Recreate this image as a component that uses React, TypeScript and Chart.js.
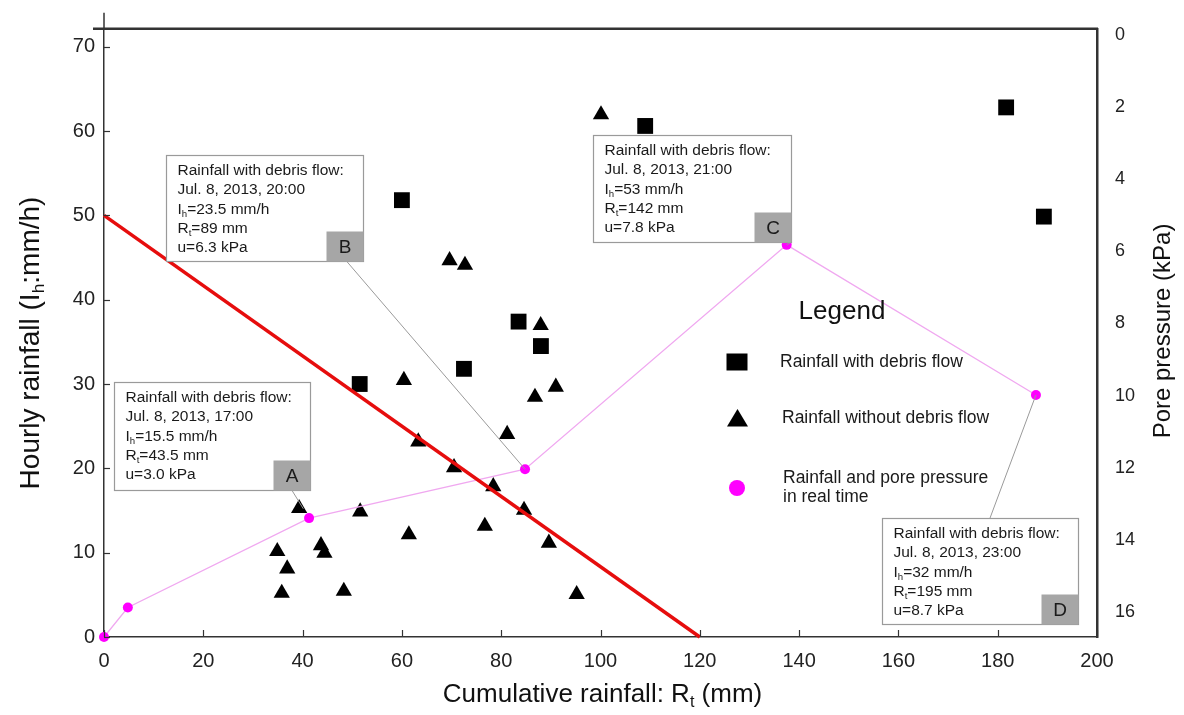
import React, { useEffect, useRef } from "react";
import { Chart, registerables } from "chart.js";

Chart.register(...registerables);

// ---------- data ----------
const squareX = [51.5, 60.0, 109.0, 83.5, 88.0, 72.5, 181.7, 189.3];
const squareY = [30.0, 51.8, 60.6, 37.4, 34.5, 31.8, 62.8, 49.85];

const triangleX = [69.6, 72.7, 87.95, 60.4, 91.0, 86.8, 81.2, 63.3, 70.5, 78.4, 39.3, 51.6, 84.6, 76.7, 61.4, 89.6, 34.9, 43.7, 44.4, 36.9, 35.8, 48.3, 95.2, 100.1];
const triangleY = [44.65, 44.1, 36.95, 30.45, 29.65, 28.45, 24.05, 23.15, 20.1, 17.85, 15.25, 14.85, 15.05, 13.15, 12.15, 11.15, 10.15, 10.85, 9.95, 8.1, 5.2, 5.45, 5.05, 61.95];

const realTimeX = [0, 4.8, 41.3, 84.8, 137.5, 187.7];
const realTimeY = [0, 3.5, 14.1, 19.9, 46.5, 28.7];

const thresholdX = [0, 120];
const thresholdY = [50, 0];

const xTicks = [0, 20, 40, 60, 80, 100, 120, 140, 160, 180, 200];
const leftTicks = [0, 10, 20, 30, 40, 50, 60, 70];
const rightTicks = [0, 2, 4, 6, 8, 10, 12, 14, 16];

const legendLabels = ["Rainfall with debris flow", "Rainfall without debris flow", "Rainfall and pore pressure", "in real time"];

const noteA = ["Rainfall with debris flow:", "Jul. 8, 2013, 17:00", "I_h=15.5 mm/h", "R_t=43.5 mm", "u=3.0 kPa"];
const noteB = ["Rainfall with debris flow:", "Jul. 8, 2013, 20:00", "I_h=23.5 mm/h", "R_t=89 mm", "u=6.3 kPa"];
const noteC = ["Rainfall with debris flow:", "Jul. 8, 2013, 21:00", "I_h=53 mm/h", "R_t=142 mm", "u=7.8 kPa"];
const noteD = ["Rainfall with debris flow:", "Jul. 8, 2013, 23:00", "I_h=32 mm/h", "R_t=195 mm", "u=8.7 kPa"];

// ---------- layout / styles ----------
const FONT = "'Liberation Sans', Arial, Helvetica, sans-serif";
const W = 1184;
const H = 715;

// annotation boxes: anchor (top-left) in data units, size in px
const notes = [
  { letter: "A", lines: noteA, x: 2.0, y: 30.2, w: 196, h: 108, target: 2, sx: 178, sy: 108, shorten: 11 },
  { letter: "B", lines: noteB, x: 12.5, y: 57.2, w: 197, h: 106, target: 3, sx: 180, sy: 106, shorten: 0 },
  { letter: "C", lines: noteC, x: 98.5, y: 59.5, w: 198, h: 107, target: 4, sx: 198, sy: 107, shorten: 0 },
  { letter: "D", lines: noteD, x: 156.7, y: 14.1, w: 196, h: 106, target: 5, sx: 108, sy: 0, shorten: 0 },
];

type Seg = { t: string; sub: boolean };
function parseRich(s: string): Seg[] {
  const out: Seg[] = [];
  let buf = "";
  for (let i = 0; i < s.length; i++) {
    if (s[i] === "_" && i + 1 < s.length) {
      if (buf) out.push({ t: buf, sub: false });
      buf = "";
      out.push({ t: s[i + 1], sub: true });
      i++;
    } else buf += s[i];
  }
  if (buf) out.push({ t: buf, sub: false });
  return out;
}

function richText(
  ctx: CanvasRenderingContext2D,
  s: string,
  x: number,
  y: number,
  size: number,
  align: "left" | "center",
  color = "#111"
) {
  const segs = parseRich(s);
  const subSize = size * 0.62;
  const fontOf = (g: Seg) => `${g.sub ? subSize : size}px ${FONT}`;
  const widthOf = (g: Seg) => {
    ctx.font = fontOf(g);
    return ctx.measureText(g.t).width;
  };
  const total = segs.reduce((a, g) => a + widthOf(g), 0);
  let cx = align === "center" ? x - total / 2 : x;
  ctx.fillStyle = color;
  ctx.textBaseline = "middle";
  ctx.textAlign = "left";
  for (const g of segs) {
    ctx.font = fontOf(g);
    ctx.fillText(g.t, cx, g.sub ? y + size * 0.3 : y);
    cx += widthOf(g);
  }
}

const decorPlugin = {
  id: "decor",
  afterDatasetsDraw(chart: any) {
    const ctx: CanvasRenderingContext2D = chart.ctx;
    const xs = chart.scales.x;
    const ys = chart.scales.y;
    ctx.save();
    // connectors
    notes.forEach((n) => {
      const bx = xs.getPixelForValue(n.x);
      const by = ys.getPixelForValue(n.y);
      const tx = xs.getPixelForValue(realTimeX[n.target]);
      const ty = ys.getPixelForValue(realTimeY[n.target]);
      const sx = bx + n.sx;
      const sy = by + n.sy;
      const len = Math.hypot(tx - sx, ty - sy);
      const k = len > 0 ? (len - n.shorten) / len : 1;
      ctx.beginPath();
      ctx.moveTo(sx, sy);
      ctx.lineTo(sx + (tx - sx) * k, sy + (ty - sy) * k);
      ctx.strokeStyle = "#9a9a9a";
      ctx.lineWidth = 1;
      ctx.stroke();
    });
    // boxes
    notes.forEach((n) => {
      const bx = Math.round(xs.getPixelForValue(n.x)) + 0.5;
      const by = Math.round(ys.getPixelForValue(n.y)) + 0.5;
      ctx.fillStyle = "#ffffff";
      ctx.fillRect(bx, by, n.w, n.h);
      ctx.strokeStyle = "#9a9a9a";
      ctx.lineWidth = 1.2;
      ctx.strokeRect(bx, by, n.w, n.h);
      // letter box
      const lw = 37;
      const lh = 30;
      ctx.fillStyle = "#a6a6a6";
      ctx.fillRect(bx + n.w - lw, by + n.h - lh, lw, lh);
      ctx.font = `19px ${FONT}`;
      ctx.fillStyle = "#1a1a1a";
      ctx.textAlign = "center";
      ctx.textBaseline = "middle";
      ctx.fillText(n.letter, bx + n.w - lw / 2, by + n.h - lh / 2 + 1);
      n.lines.forEach((ln, i) => {
        richText(ctx, ln, bx + 11, by + 15 + i * 19.4, 15.5, "left", "#1a1a1a");
      });
    });
    ctx.restore();
  },
  afterDraw(chart: any) {
    const ctx: CanvasRenderingContext2D = chart.ctx;
    const area = chart.chartArea;
    const xs = chart.scales.x;
    const ys = chart.scales.y;
    ctx.save();
    // top frame line and axis extension
    ctx.strokeStyle = "#333";
    ctx.lineWidth = 2.5;
    ctx.beginPath();
    ctx.moveTo(area.left - 11, area.top);
    ctx.lineTo(area.right + 1, area.top);
    ctx.stroke();
    ctx.lineWidth = 1.5;
    ctx.beginPath();
    ctx.moveTo(area.left, area.top - 16);
    ctx.lineTo(area.left, area.top);
    ctx.stroke();
    // inward ticks
    ctx.lineWidth = 1.2;
    ctx.strokeStyle = "#333";
    leftTicks.forEach((v) => {
      const py = Math.round(ys.getPixelForValue(v)) + 0.5;
      ctx.beginPath();
      ctx.moveTo(area.left, py);
      ctx.lineTo(area.left + 6, py);
      ctx.stroke();
    });
    xTicks.forEach((v) => {
      const px = Math.round(xs.getPixelForValue(v)) + 0.5;
      ctx.beginPath();
      ctx.moveTo(px, area.bottom);
      ctx.lineTo(px, area.bottom - 7);
      ctx.stroke();
    });
    // axis titles
    richText(ctx, "Cumulative rainfall: R_t (mm)", (area.left + area.right) / 2 + 2, 695, 26, "center", "#111");
    ctx.save();
    ctx.translate(31, 343);
    ctx.rotate(-Math.PI / 2);
    richText(ctx, "Hourly rainfall (I_h:mm/h)", 0, 0, 28, "center", "#111");
    ctx.restore();
    ctx.save();
    ctx.translate(1163, 331);
    ctx.rotate(-Math.PI / 2);
    richText(ctx, "Pore pressure (kPa)", 0, 0, 24, "center", "#111");
    ctx.restore();

    // legend
    ctx.fillStyle = "#111";
    ctx.font = `26px ${FONT}`;
    ctx.textAlign = "center";
    ctx.textBaseline = "middle";
    ctx.fillText("Legend", 842, 312);
    // square
    ctx.fillStyle = "#000";
    ctx.fillRect(737 - 10.5, 362 - 8.5, 21, 17);
    // triangle
    ctx.beginPath();
    ctx.moveTo(737.5, 418 - 9);
    ctx.lineTo(737.5 + 10.5, 418 + 8.5);
    ctx.lineTo(737.5 - 10.5, 418 + 8.5);
    ctx.closePath();
    ctx.fill();
    // circle
    ctx.fillStyle = "#ff00ff";
    ctx.beginPath();
    ctx.arc(737, 488, 8, 0, Math.PI * 2);
    ctx.fill();
    richText(ctx, legendLabels[0], 780, 362, 17.5, "left", "#1a1a1a");
    richText(ctx, legendLabels[1], 782, 418, 17.5, "left", "#1a1a1a");
    richText(ctx, legendLabels[2], 783, 478, 17.5, "left", "#1a1a1a");
    richText(ctx, legendLabels[3], 783, 497, 17.5, "left", "#1a1a1a");
    ctx.restore();
  },
};

export default function App() {
  const ref = useRef<HTMLCanvasElement | null>(null);
  useEffect(() => {
    if (!ref.current) return;
    const chart = new Chart(ref.current, {
      type: "scatter",
      data: {
        datasets: [
          {
            type: "line",
            label: "Threshold",
            data: thresholdX.map((x, i) => ({ x, y: thresholdY[i] })),
            borderColor: "#e60d0d",
            borderWidth: 3.5,
            pointRadius: 0,
            fill: false,
            clip: false,
            yAxisID: "y",
          },
          {
            type: "line",
            label: "Rainfall and pore pressure in real time",
            data: realTimeX.map((x, i) => ({ x, y: realTimeY[i] })),
            borderColor: "#f0a8f0",
            borderWidth: 1.3,
            pointRadius: 5,
            pointBackgroundColor: "#ff00ff",
            pointBorderColor: "#ff00ff",
            pointBorderWidth: 0,
            fill: false,
            tension: 0,
            clip: false,
            yAxisID: "y",
          },
          {
            label: "Rainfall with debris flow",
            data: squareX.map((x, i) => ({ x, y: squareY[i] })),
            pointStyle: "rect",
            pointRadius: 11.2,
            backgroundColor: "#000",
            borderColor: "#000",
            borderWidth: 0,
            clip: false,
            yAxisID: "y",
          },
          {
            label: "Rainfall without debris flow",
            data: triangleX.map((x, i) => ({ x, y: triangleY[i] })),
            pointStyle: "triangle",
            pointRadius: 9.4,
            backgroundColor: "#000",
            borderColor: "#000",
            borderWidth: 0,
            clip: false,
            yAxisID: "y",
          },
        ],
      },
      options: {
        animation: false,
        responsive: false,
        maintainAspectRatio: false,
        devicePixelRatio: 1,
        layout: { padding: { top: 24, left: 0, right: 0, bottom: 0 } },
        plugins: {
          legend: { display: false },
          tooltip: { enabled: false },
          title: { display: false },
        },
        scales: {
          x: {
            type: "linear",
            position: "bottom",
            min: 0,
            max: 200,
            afterBuildTicks: (s: any) => {
              s.ticks = xTicks.map((v) => ({ value: v }));
            },
            afterFit: (s: any) => {
              s.height = 78;
            },
            ticks: {
              font: { family: FONT, size: 20 },
              color: "#222",
              padding: 12,
              maxRotation: 0,
              autoSkip: false,
            },
            grid: { display: true, drawOnChartArea: false, drawTicks: false },
            border: { display: true, color: "#333", width: 1.5 },
          },
          y: {
            type: "linear",
            position: "left",
            min: 0,
            max: 72.12,
            afterBuildTicks: (s: any) => {
              s.ticks = leftTicks.map((v) => ({ value: v }));
            },
            afterFit: (s: any) => {
              s.width = 104;
            },
            ticks: {
              font: { family: FONT, size: 20 },
              color: "#222",
              padding: 9,
              autoSkip: false,
            },
            grid: { display: true, drawOnChartArea: false, drawTicks: false },
            border: { display: true, color: "#333", width: 1.5 },
          },
          y2: {
            type: "linear",
            position: "right",
            display: true,
            reverse: true,
            min: -0.165,
            max: 16.69,
            afterBuildTicks: (s: any) => {
              s.ticks = rightTicks.map((v) => ({ value: v }));
            },
            afterFit: (s: any) => {
              s.width = 87;
            },
            ticks: {
              font: { family: FONT, size: 18 },
              color: "#222",
              padding: 18,
              autoSkip: false,
            },
            grid: { display: true, drawOnChartArea: false, drawTicks: false },
            border: { display: true, color: "#333", width: 2.5 },
          },
        },
      },
      plugins: [decorPlugin],
    } as any);
    return () => chart.destroy();
  }, []);

  return (
    <div
      style={{
        position: "fixed",
        left: 0,
        top: 0,
        width: W,
        height: H,
        background: "#ffffff",
      }}
    >
      <canvas ref={ref} width={W} height={H} style={{ display: "block", width: W, height: H }} />
    </div>
  );
}
